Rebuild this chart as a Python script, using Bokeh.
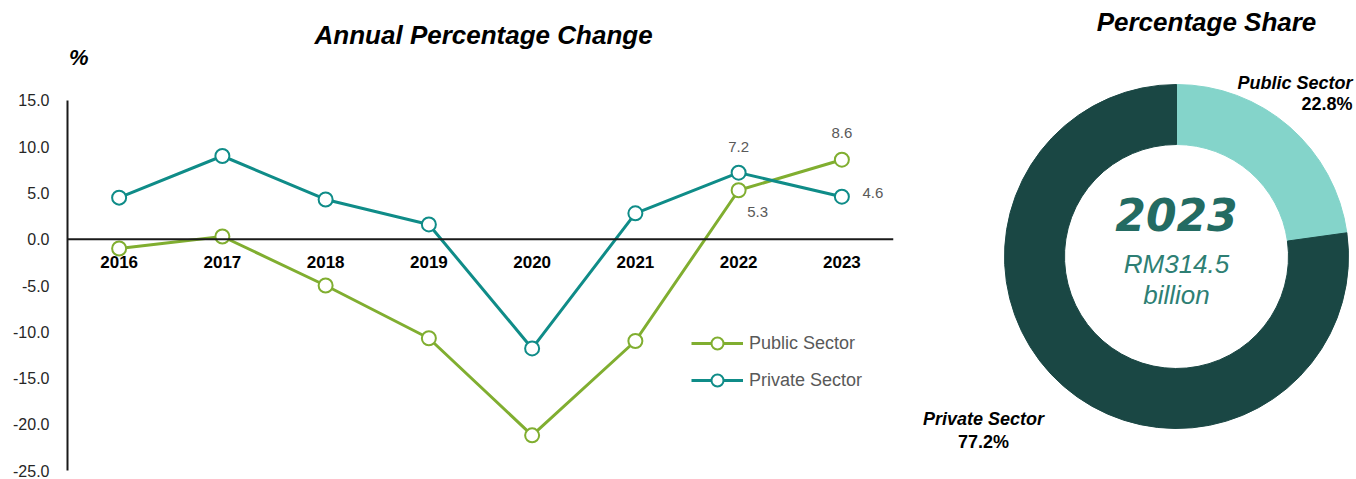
from bokeh.plotting import figure
from bokeh.models import (ColumnDataSource, Range1d, Span, Label, Legend,
                          LegendItem, FixedTicker, NumeralTickFormatter)
from bokeh.layouts import row
from bokeh.embed import file_html
from bokeh.resources import INLINE
from bokeh.core.properties import value
import numpy as np

# ---------------- data ----------------
years = [2016, 2017, 2018, 2019, 2020, 2021, 2022, 2023]
public_sector = [-1.0, 0.3, -5.0, -10.7, -21.2, -11.0, 5.3, 8.6]
private_sector = [4.5, 9.0, 4.3, 1.6, -11.8, 2.8, 7.2, 4.6]
y_ticks = [15, 10, 5, 0, -5, -10, -15, -20, -25]

share_labels = ["Public Sector", "Private Sector"]
share_values = [22.8, 77.2]
share_year = "2023"
share_total = "RM314.5"
share_unit = "billion"

# ---------------- styles ----------------
FONT = "Liberation Sans"
PUB_COLOR = "#80AE30"
PRI_COLOR = "#0F8C88"
LABEL_GRAY = "#595959"

# ============ left chart ============
# frame covers the whole height; the axis line is bounded to the tick span
p = figure(width=908, height=479, x_range=Range1d(years[0] - 0.5, years[-1] + 0.5),
           y_range=Range1d(-25.97, 25.81),
           output_backend="svg", toolbar_location=None, tools="", x_axis_location=None,
           min_border_left=67, min_border_right=15, min_border_top=0, min_border_bottom=0)
p.frame_align = False
p.xgrid.visible = False
p.ygrid.visible = False
p.outline_line_color = None
p.background_fill_color = "white"
p.border_fill_color = "white"

ya = p.yaxis[0]
ya.ticker = FixedTicker(ticks=y_ticks)
ya.bounds = (min(y_ticks), max(y_ticks))
ya.formatter = NumeralTickFormatter(format="0.0")
ya.major_tick_line_color = None
ya.minor_tick_line_color = None
ya.axis_line_color = "#1a1a1a"
ya.axis_line_width = 2
ya.major_label_text_font = FONT
ya.major_label_text_font_size = "16px"
ya.major_label_text_color = "#262626"
ya.major_label_standoff = 12

p.add_layout(Span(location=0, dimension="width", line_color="#1a1a1a", line_width=2))

src = ColumnDataSource(dict(year=years, year_txt=[str(y) for y in years],
                            pub=public_sector, pri=private_sector,
                            zero=[0] * len(years)))

pub_line = p.line("year", "pub", source=src, line_color=PUB_COLOR, line_width=3)
pub_pts = p.scatter("year", "pub", source=src, size=14, fill_color="white",
                    line_color=PUB_COLOR, line_width=2)
pri_line = p.line("year", "pri", source=src, line_color=PRI_COLOR, line_width=3)
pri_pts = p.scatter("year", "pri", source=src, size=14, fill_color="white",
                    line_color=PRI_COLOR, line_width=2)

# year labels under the zero line
p.text("year", "zero", text="year_txt", source=src, text_font=value(FONT), text_font_size="17px",
       text_font_style="bold", text_color="black", text_align="center",
       text_baseline="middle", y_offset=23)

# data labels for last two years
lab_src = ColumnDataSource(dict(
    year=years[-2:] + years[-2:],
    val=public_sector[-2:] + private_sector[-2:],
    txt=[f"{v:.1f}" for v in public_sector[-2:] + private_sector[-2:]],
    dx=[19, 0, 0, 31],
    dy=[22, -27, -26, -4],
))
p.text("year", "val", text="txt", source=lab_src, text_font=value(FONT), text_font_size="15px",
       text_color=LABEL_GRAY, text_align="center", text_baseline="middle",
       x_offset="dx", y_offset="dy")

legend = Legend(items=[LegendItem(label="Public Sector", renderers=[pub_line, pub_pts]),
                       LegendItem(label="Private Sector", renderers=[pri_line, pri_pts])],
                location=(624, 84), padding=0, margin=0, spacing=7,
                glyph_width=52, glyph_height=30, label_height=30, label_standoff=6,
                label_text_font=FONT, label_text_font_size="18px", label_text_color=LABEL_GRAY,
                border_line_color=None, background_fill_alpha=0)
p.add_layout(legend)

p.add_layout(Label(x=2019.53, y=22.03, text="Annual Percentage Change",
                   text_align="center", text_baseline="middle", text_font=FONT,
                   text_font_size="26px", text_font_style="bold italic", text_color="black"))
p.add_layout(Label(x=2015.515, y=19.65, text="%", text_align="left",
                   text_baseline="middle", text_font=FONT, text_font_size="22px",
                   text_font_style="bold italic", text_color="black"))

# ============ right chart (donut) ============
q = figure(width=448, height=479, x_range=Range1d(-268, 180), y_range=Range1d(-223, 256),
           output_backend="svg", toolbar_location=None, tools="",
           x_axis_location=None, y_axis_location=None,
           min_border_left=0, min_border_right=0, min_border_top=0, min_border_bottom=0)
q.frame_align = False
q.xgrid.visible = False
q.ygrid.visible = False
q.outline_line_color = None
q.background_fill_color = "white"
q.border_fill_color = "white"

shares = np.array(share_values)
cum_after = np.cumsum(shares)
cum_before = cum_after - shares
start_deg = 90 - 3.6 * cum_after
end_deg = 90 - 3.6 * cum_before
donut_src = ColumnDataSource(dict(
    label=share_labels, share=share_values,
    start=np.radians(start_deg), end=np.radians(end_deg),
    color=["#84D4CA", "#1A4744"],
))
q.annular_wedge(x=0, y=0, inner_radius=112, outer_radius=172, start_angle="start",
                end_angle="end", color="color", source=donut_src)

def qlabel(x, y, text, size, style, color, align="center", font=FONT):
    q.add_layout(Label(x=x, y=y, text=text, text_align=align, text_baseline="middle",
                       text_font=font, text_font_size=size, text_font_style=style,
                       text_color=color))

qlabel(30, 235, "Percentage Share", "26px", "bold italic", "black")
qlabel(176, 174, share_labels[0], "18px", "bold italic", "black", align="right")
qlabel(176, 153, f"{share_values[0]:.1f}%", "18px", "bold", "black", align="right")
qlabel(-193, -162, share_labels[1], "18px", "bold italic", "black")
qlabel(-193, -185, f"{share_values[1]:.1f}%", "18px", "bold", "black")
qlabel(0, 42, share_year, "44px", "bold italic", "#236B62", font="DejaVu Sans")
qlabel(0, -7, share_total, "26px", "italic", "#2E7F74")
qlabel(0, -38, share_unit, "26px", "italic", "#2E7F74")

layout = row(p, q, spacing=0)
open("out.html", "w").write(file_html(layout, INLINE))
